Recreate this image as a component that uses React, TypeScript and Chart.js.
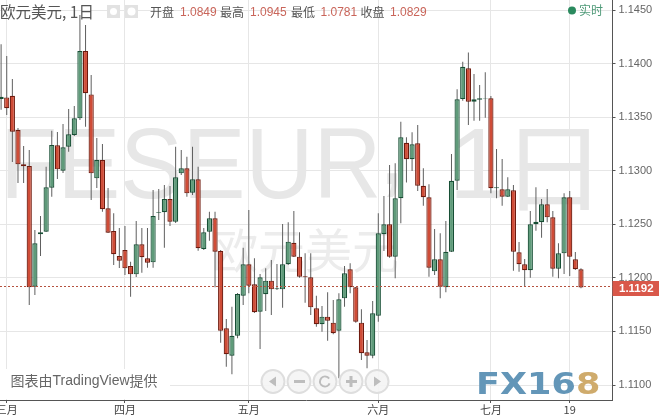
import React, { useEffect, useRef } from "react";
import { Chart, registerables } from "chart.js";

Chart.register(...registerables);

const W = 659;
const H = 416;

// Daily EUR/USD candles, 28 Feb to 23 Jul
const open = [
  1.1367, 1.13685, 1.137, 1.1338, 1.1306, 1.13044, 1.11918, 1.12407, 1.12431, 1.12842, 1.13237, 1.13, 1.13224, 1.13334, 1.13489,
  1.14118, 1.13713, 1.12929, 1.131, 1.12649, 1.12437, 1.12204, 1.1226, 1.12111, 1.12033, 1.12313, 1.12183, 1.12145, 1.12608, 1.12612,
  1.12736, 1.12524, 1.12976, 1.13023, 1.12795, 1.1292, 1.12269, 1.12431, 1.12556, 1.12251, 1.11529, 1.11273, 1.1146, 1.11834, 1.12127,
  1.1194, 1.11684, 1.11847, 1.11974, 1.11893, 1.11893, 1.12127, 1.12328, 1.12198, 1.12015, 1.12005, 1.11716, 1.11567, 1.11638, 1.11582,
  1.11507, 1.11809, 1.1208, 1.11912, 1.11582, 1.11305, 1.11273, 1.11647, 1.12407, 1.125, 1.12198, 1.12743, 1.13262, 1.13107, 1.13256,
  1.1286, 1.12752, 1.12061, 1.12173, 1.11912, 1.12244, 1.12907, 1.13669, 1.13956, 1.13644, 1.13663, 1.13672, 1.13676, 1.12836, 1.12827,
  1.12758, 1.12817, 1.12239, 1.12127, 1.12071, 1.125, 1.12519, 1.12687, 1.12565, 1.12086, 1.12229, 1.12752, 1.12173, 1.1208,
];
const high = [
  1.1418, 1.14071, 1.13856, 1.13399, 1.13231, 1.13193, 1.12447, 1.12577, 1.13038, 1.13374, 1.13362, 1.13436, 1.13576, 1.13604, 1.14454,
  1.1436, 1.13894, 1.13305, 1.13249, 1.12839, 1.12603, 1.12465, 1.12484, 1.12151, 1.12531, 1.12465, 1.12465, 1.1282, 1.12829, 1.12867,
  1.12857, 1.13224, 1.13193, 1.13131, 1.13224, 1.13038, 1.12465, 1.12618, 1.12618, 1.1226, 1.11616, 1.11731, 1.11859, 1.12282, 1.12633,
  1.12183, 1.12036, 1.12089, 1.12167, 1.12129, 1.12503, 1.12519, 1.12624, 1.12425, 1.12229, 1.12229, 1.11834, 1.11737, 1.11865, 1.11793,
  1.11856, 1.12111, 1.12136, 1.11915, 1.11707, 1.1142, 1.11784, 1.12603, 1.12764, 1.13053, 1.13069, 1.13458, 1.13312, 1.13359, 1.13427,
  1.13023, 1.12873, 1.12456, 1.12416, 1.12531, 1.13156, 1.1376, 1.14018, 1.14105, 1.13903, 1.138, 1.13919, 1.13698, 1.13203, 1.13109,
  1.12939, 1.12867, 1.12335, 1.12176, 1.12624, 1.12845, 1.12736, 1.12829, 1.12624, 1.12323, 1.12789, 1.12811, 1.12241, 1.12089,
];
const low = [
  1.1357, 1.1352, 1.13081, 1.12885, 1.12885, 1.11747, 1.1184, 1.12204, 1.12428, 1.12758, 1.12923, 1.12979, 1.13178, 1.13324, 1.13474,
  1.13411, 1.12727, 1.12839, 1.12618, 1.12419, 1.1212, 1.12092, 1.12027, 1.11824, 1.12008, 1.12048, 1.12095, 1.12095, 1.1254, 1.12282,
  1.12484, 1.12512, 1.1296, 1.12758, 1.12773, 1.12254, 1.1226, 1.12347, 1.11912, 1.11395, 1.11171, 1.111, 1.11436, 1.11747, 1.11856,
  1.11672, 1.11336, 1.11691, 1.11653, 1.11887, 1.11722, 1.1212, 1.12195, 1.12002, 1.11768, 1.11653, 1.11544, 1.11497, 1.11413, 1.11473,
  1.11063, 1.11731, 1.11856, 1.11582, 1.11233, 1.11156, 1.11249, 1.11591, 1.12251, 1.12188, 1.11996, 1.12509, 1.1289, 1.12997, 1.12811,
  1.12674, 1.12011, 1.12027, 1.11809, 1.11865, 1.12241, 1.1282, 1.13654, 1.13427, 1.13467, 1.13467, 1.13495, 1.12789, 1.12743, 1.12674,
  1.12755, 1.12067, 1.12058, 1.11924, 1.12002, 1.1244, 1.12375, 1.12519, 1.12011, 1.11996, 1.12036, 1.12017, 1.12073, 1.11903,
];
const close = [
  1.1369, 1.13583, 1.13364, 1.1306, 1.13041, 1.11912, 1.12323, 1.12425, 1.12845, 1.1324, 1.13013, 1.13219, 1.1334, 1.13489, 1.14118,
  1.13723, 1.12976, 1.131, 1.1264, 1.12422, 1.1222, 1.1216, 1.12089, 1.12033, 1.12313, 1.12192, 1.12142, 1.12577, 1.12615, 1.12736,
  1.12524, 1.12939, 1.13023, 1.12789, 1.1292, 1.12276, 1.12425, 1.12556, 1.12244, 1.11507, 1.11287, 1.1146, 1.11849, 1.12127, 1.11927,
  1.11679, 1.12005, 1.11974, 1.11893, 1.11903, 1.12127, 1.12338, 1.12198, 1.12011, 1.12005, 1.11725, 1.11567, 1.11638, 1.116, 1.11483,
  1.118, 1.12043, 1.11912, 1.11591, 1.11296, 1.11273, 1.11669, 1.12416, 1.125, 1.12198, 1.12743, 1.13312, 1.13107, 1.13247, 1.1286,
  1.12752, 1.12095, 1.12173, 1.11918, 1.12244, 1.12907, 1.13667, 1.13971, 1.13644, 1.13667, 1.13676, 1.13676, 1.12836, 1.12845, 1.12758,
  1.12827, 1.12244, 1.12127, 1.12071, 1.125, 1.12524, 1.12687, 1.12565, 1.12086, 1.12229, 1.12752, 1.12198, 1.1208, 1.1191,
];

const priceTicks = [1.11, 1.115, 1.12, 1.125, 1.13, 1.135, 1.14, 1.145];
const timeTickIndex = [1, 22, 44, 67, 87, 101];
const timeTickLabels = ["三月", "四月", "五月", "六月", "七月", "19"];
const lastPrice = 1.1192;
const headerTitle = "欧元美元, 1日";
const ohlcHeader = [
  ["开盘", "1.0849", 150, 180],
  ["最高", "1.0945", 220, 250],
  ["最低", "1.0781", 291, 320.5],
  ["收盘", "1.0829", 360.5, 390],
];

const CJK = '"Noto Sans CJK SC", "Liberation Sans", sans-serif';
const LATIN = '"Liberation Sans", Arial, sans-serif';
const UP = "#5f9b7a";
const UP_EDGE = "#174f35";
const DOWN = "#cf4c37";
const DOWN_EDGE = "#6f1a0e";

const overlay = {
  id: "overlay",
  beforeDatasetsDraw(chart: any) {
    const { ctx } = chart;
    ctx.save();
    ctx.textBaseline = "alphabetic";
    ctx.textAlign = "left";
    ctx.fillStyle = "#e7e7e7";
    ctx.save();
    ctx.translate(0, 198);
    ctx.scale(0.94, 1);
    ctx.font = `100px ${LATIN}`;
    ctx.fillText("FESEUR", 0, 0);
    ctx.restore();
    ctx.font = `100px ${LATIN}`;
    ctx.fillText(",", 378, 184);
    ctx.fillText("1", 449, 198);
    ctx.save();
    ctx.translate(501, 203);
    ctx.scale(1.1, 1);
    ctx.font = `96px ${CJK}`;
    ctx.fillText("日", 0, 0);
    ctx.restore();
    ctx.fillStyle = "#ececec";
    ctx.font = `47px ${CJK}`;
    ctx.fillText("欧元美元", 211, 268);
    // attribution plate
    ctx.fillStyle = "#ffffff";
    ctx.fillRect(0, 369, 170, 30);
    ctx.restore();
  },
  afterDraw(chart: any) {
    const { ctx, scales } = chart;
    const right = chart.chartArea.right;
    const y = Math.round(scales.y.getPixelForValue(lastPrice)) + 0.5;
    ctx.save();
    ctx.textBaseline = "middle";
    ctx.textAlign = "left";

    // last price line and label
    ctx.strokeStyle = "#b5523f";
    ctx.lineWidth = 1;
    ctx.setLineDash([2, 2]);
    ctx.beginPath();
    ctx.moveTo(0, y);
    ctx.lineTo(right, y);
    ctx.stroke();
    ctx.setLineDash([]);
    ctx.fillStyle = "#d9584a";
    ctx.fillRect(right, 281, W - right, 15);
    ctx.fillStyle = "#ffffff";
    ctx.font = `bold 11.5px ${LATIN}`;
    ctx.fillText(lastPrice.toFixed(4), 619, 288.5);

    // header
    ctx.fillStyle = "#555555";
    ctx.font = `15.5px ${CJK}`;
    ctx.fillText(headerTitle, 0, 12);
    ctx.fillStyle = "#e2e2e2";
    ctx.fillRect(107, 5, 13, 13);
    ctx.fillRect(125, 5, 13, 13);
    ctx.fillStyle = "#ffffff";
    ctx.beginPath();
    ctx.arc(113.5, 11.5, 3.5, 0, Math.PI * 2);
    ctx.fill();
    ctx.beginPath();
    ctx.arc(131.5, 11.5, 4, 0, Math.PI * 2);
    ctx.fill();
    ohlcHeader.forEach(([name, value, xName, xValue]: any) => {
      ctx.font = `12px ${CJK}`;
      ctx.fillStyle = "#555555";
      ctx.fillText(name, xName, 12.5);
      ctx.font = `12px ${LATIN}`;
      ctx.fillStyle = "#c9655a";
      ctx.fillText(value, xValue, 12.5);
    });

    // realtime
    ctx.fillStyle = "#2a8a5e";
    ctx.beginPath();
    ctx.arc(572, 10.5, 4, 0, Math.PI * 2);
    ctx.fill();
    ctx.fillStyle = "#4f9a78";
    ctx.font = `12px ${CJK}`;
    ctx.fillText("实时", 579, 10.5);

    // attribution
    ctx.fillStyle = "#666666";
    ctx.font = `14px ${CJK}`;
    let tx = 10.5;
    ctx.fillText("图表由", tx, 381);
    tx += ctx.measureText("图表由").width;
    ctx.font = `14px ${LATIN}`;
    ctx.fillText("TradingView", tx, 381);
    tx += ctx.measureText("TradingView").width;
    ctx.font = `14px ${CJK}`;
    ctx.fillText("提供", tx, 381);

    // navigation buttons
    const by = 381.5;
    [273, 299, 325, 351, 377].forEach((bx, i) => {
      ctx.beginPath();
      ctx.arc(bx, by, 11.5, 0, Math.PI * 2);
      ctx.fillStyle = "rgba(244,244,244,0.9)";
      ctx.fill();
      ctx.strokeStyle = "#dedede";
      ctx.lineWidth = 2;
      ctx.stroke();
      ctx.fillStyle = "#bdbdbd";
      ctx.strokeStyle = "#bdbdbd";
      if (i === 0 || i === 4) {
        const d = i === 0 ? -1 : 1;
        ctx.beginPath();
        ctx.moveTo(bx + d * 4, by);
        ctx.lineTo(bx - d * 3, by - 5);
        ctx.lineTo(bx - d * 3, by + 5);
        ctx.closePath();
        ctx.fill();
      } else if (i === 1) {
        ctx.fillRect(bx - 5, by - 1.5, 11, 3);
      } else if (i === 2) {
        ctx.beginPath();
        ctx.arc(bx, by, 5, 0.4, Math.PI * 1.8);
        ctx.stroke();
      } else {
        ctx.fillRect(bx - 5, by - 1.5, 11, 3);
        ctx.fillRect(bx - 1.5, by - 5.5, 3, 11);
      }
    });

    // FX168 mark
    ctx.textBaseline = "alphabetic";
    ctx.save();
    ctx.translate(476, 394);
    ctx.scale(1.17, 1);
    ctx.font = `bold 30px "DejaVu Sans", ${LATIN}`;
    ctx.fillStyle = "#6396b8";
    ctx.fillText("FX16", 0, 0);
    const wFx = ctx.measureText("FX16").width;
    ctx.fillStyle = "#cfab6c";
    ctx.fillText("8", wFx, 0);
    ctx.restore();
    ctx.restore();
  },
};

export default function App() {
  const ref = useRef<HTMLCanvasElement | null>(null);

  useEffect(() => {
    document.body.style.margin = "0";
    const isUp = close.map((c, i) => c >= open[i]);
    const chart = new Chart(ref.current as HTMLCanvasElement, {
      type: "bar",
      data: {
        datasets: [
          {
            label: "body",
            data: open.map((o, i) => ({ x: i, y: [o, close[i]] })),
            backgroundColor: isUp.map((u) => (u ? UP : DOWN)),
            borderColor: isUp.map((u) => (u ? UP_EDGE : DOWN_EDGE)),
            borderWidth: 1.2,
            borderSkipped: false,
            inflateAmount: 0,
            barThickness: 5.2,
            grouped: false,
            order: 1,
          },
          {
            label: "wick",
            data: low.map((l, i) => ({ x: i, y: [l, high[i]] })),
            backgroundColor: "#5f5f5f",
            borderWidth: 0,
            inflateAmount: 0,
            barThickness: 1,
            grouped: false,
            order: 2,
          },
        ] as any,
      },
      options: {
        responsive: false,
        animation: false,
        devicePixelRatio: 1,
        layout: { padding: 0 },
        plugins: { legend: { display: false }, tooltip: { enabled: false } },
        scales: {
          x: {
            type: "linear",
            offset: false,
            min: -0.195,
            max: 108.6,
            afterBuildTicks(axis: any) {
              axis.ticks = timeTickIndex.map((value) => ({ value }));
            },
            afterFit(axis: any) {
              axis.height = 16;
              axis.paddingLeft = 0;
              axis.paddingRight = 0;
            },
            grid: { offset: false, color: "#e6e6e6", tickColor: "#555555", tickLength: 3, lineWidth: 1 },
            border: { color: "#555555", width: 1 },
            ticks: {
              autoSkip: false,
              maxRotation: 0,
              padding: 0,
              color: "#444444",
              font: { size: 11, family: CJK },
              callback: (v: any) => timeTickLabels[timeTickIndex.indexOf(v)] ?? "",
            },
          },
          y: {
            position: "right",
            min: 1.1086,
            max: 1.14594,
            afterBuildTicks(axis: any) {
              axis.ticks = priceTicks.map((value) => ({ value }));
            },
            afterFit(axis: any) {
              axis.width = 46.5;
              axis.paddingTop = 0;
              axis.paddingBottom = 0;
            },
            grid: { color: "#e6e6e6", tickColor: "#555555", tickLength: 3, lineWidth: 1 },
            border: { color: "#555555", width: 1 },
            ticks: {
              autoSkip: false,
              padding: 3,
              color: "#666666",
              font: { size: 11, family: LATIN },
              callback: (v: any) => Number(v).toFixed(4),
            },
          },
        },
      } as any,
      plugins: [overlay],
    });
    return () => chart.destroy();
  }, []);

  return <canvas ref={ref} width={W} height={H} style={{ display: "block", width: W, height: H }} />;
}
